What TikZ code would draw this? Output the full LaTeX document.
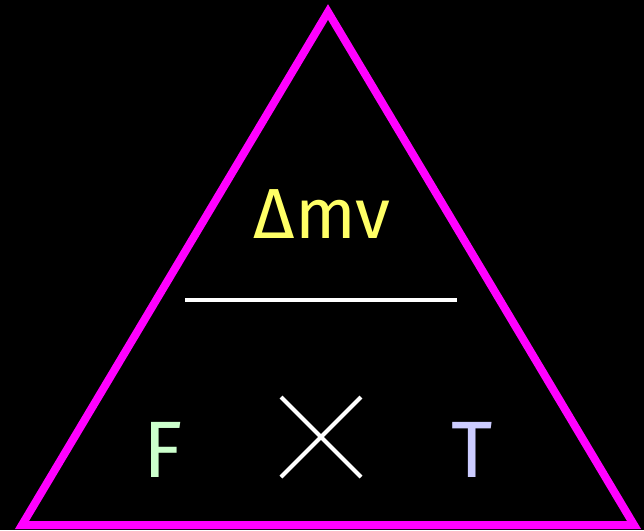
\documentclass[tikz,border=0pt]{standalone}
\usepackage{fontspec}
\setmainfont{Fira Sans}
\usetikzlibrary{positioning,calc}
\definecolor{tribord}{HTML}{FF00FF}
\definecolor{dmvcol}{HTML}{FFFF66}
\definecolor{fcol}{HTML}{CCFFCC}
\definecolor{tcol}{HTML}{CCCCFF}
\begin{document}
\begin{tikzpicture}[x=1pt,y=-1pt,
    lbl/.style={font=\fontsize{80}{88}\selectfont, inner sep=0pt},
    rule/.style={draw=white, line width=4pt}
]
\fill[black] (0,0) rectangle (644,530);
\useasboundingbox (0,0) rectangle (644,530);
% triangle
\coordinate (apex) at (328,12);
\coordinate (bl) at (22,525);
\coordinate (br) at (634,525);
\draw[tribord, line width=8pt, line join=miter] (apex) -- (br) -- (bl) -- cycle;
% numerator
\node[lbl, text=dmvcol, font=\fontsize{71}{78}\selectfont] (dmv) at (322,214) {Δmv};
\coordinate (ruleL) at (185,300);
\coordinate (ruleR) at (457,300);
\draw[rule] (ruleL) -- (ruleR);
% denominator
\node[lbl, text=fcol] (force) at (163,450) {F};
\node[lbl, text=tcol] (time) at (472,450) {T};
\coordinate (xc) at (321,437);
\draw[rule] ($(xc)+(-40,-40)$) -- ($(xc)+(40,40)$);
\draw[rule] ($(xc)+(40,-40)$) -- ($(xc)+(-40,40)$);
\end{tikzpicture}
\end{document}
